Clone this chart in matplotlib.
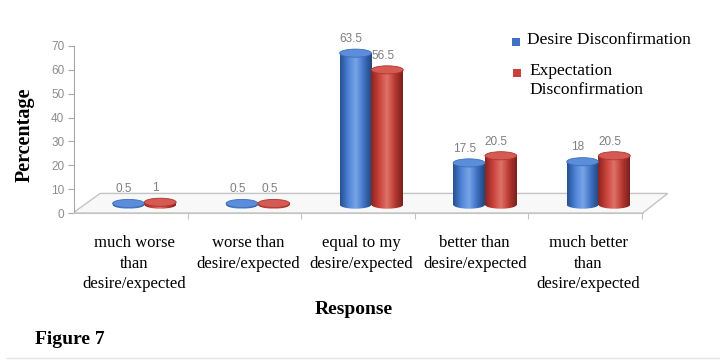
import numpy as np
import matplotlib.pyplot as plt
from matplotlib.patches import Ellipse, Polygon, Rectangle
from matplotlib.lines import Line2D
from matplotlib.colors import LinearSegmentedColormap

categories = ["much worse\nthan\ndesire/expected", "worse than\ndesire/expected",
              "equal to my\ndesire/expected", "better than\ndesire/expected",
              "much better\nthan\ndesire/expected"]
desire = [0.5, 0.5, 63.5, 17.5, 18]
expectation = [1, 0.5, 56.5, 20.5, 20.5]
desire_labels = ["0.5", "0.5", "63.5", "17.5", "18"]
expectation_labels = ["1", "0.5", "56.5", "20.5", "20.5"]
series_names = ["Desire Disconfirmation", "Expectation\nDisconfirmation"]
y_ticks = [0, 10, 20, 30, 40, 50, 60, 70]

serif = "Liberation Serif"
plt.rcParams["font.family"] = [serif, "DejaVu Serif"]

blue_cmap = LinearSegmentedColormap.from_list(
    "blue_cyl", ["#27508f", "#4c82d6", "#7aa6e8", "#3f72c4", "#22457d"])
red_cmap = LinearSegmentedColormap.from_list(
    "red_cyl", ["#8a2420", "#c8413a", "#e0736b", "#b83a33", "#7a1f1b"])
blue_cap = "#5b8ddb"
red_cap = "#d55a52"

# pseudo-3D depth shift of the bars towards the back of the floor
dx, dy = 0.12, 3.5
bar_w = 0.28
cap_h = 3.4

fig = plt.figure(figsize=(7.26, 3.60), dpi=100)
ax = fig.add_axes([74 / 726, 1 - 213 / 360, 596 / 726, 167 / 360])
ax.set_xlim(-0.5, 4.75)
ax.set_ylim(0, 70)

# floor of the chart
floor = Polygon([(-0.51, 0), (4.51, 0), (4.73, 8.2), (-0.27, 8.2)], closed=True,
                facecolor="#f8f8f8", edgecolor="#c4c4c4", lw=1.0, zorder=1)
ax.add_patch(floor)

grad = np.linspace(0, 1, 64).reshape(1, -1)


def cylinders(xs, vals, cmap, cap_color):
    bars = ax.bar(xs, vals, bar_w, bottom=dy, color="none", edgecolor="none", zorder=3)
    for rect, v in zip(bars, vals):
        x0 = rect.get_x()
        x1 = x0 + rect.get_width()
        xc = (x0 + x1) / 2
        base = Ellipse((xc, dy), bar_w, cap_h, facecolor="none", edgecolor="none", zorder=2)
        ax.add_patch(base)
        for clip in (base, rect):
            im = ax.imshow(grad, cmap=cmap, aspect="auto", extent=(x0, x1, 0, 70),
                           zorder=3, interpolation="bicubic")
            im.set_clip_path(clip)
        top = Ellipse((xc, dy + v), bar_w, cap_h, facecolor=cap_color,
                      edgecolor=cmap(0.15), lw=0.6, zorder=4)
        ax.add_patch(top)


idx = np.arange(len(categories))
cylinders(idx - bar_w / 2 + dx, desire, blue_cmap, blue_cap)
cylinders(idx + bar_w / 2 + dx, expectation, red_cmap, red_cap)
ax.set_xlim(-0.5, 4.75)
ax.set_ylim(0, 70)

for i in idx:
    ax.annotate(desire_labels[i], (i - bar_w / 2 + dx - 0.04, desire[i] + dy + cap_h / 2),
                xytext=(0, 3), textcoords="offset points", ha="center", va="bottom",
                fontsize=8.5, color="#7f7f7f", family="Liberation Sans", zorder=5)
    ax.annotate(expectation_labels[i], (i + bar_w / 2 + dx - 0.04, expectation[i] + dy + cap_h / 2),
                xytext=(0, 3), textcoords="offset points", ha="center", va="bottom",
                fontsize=8.5, color="#7f7f7f", family="Liberation Sans", zorder=5)

for s in ("top", "right"):
    ax.spines[s].set_visible(False)
ax.spines["left"].set_color("#a6a6a6")
ax.spines["bottom"].set_color("#c4c4c4")
ax.spines["bottom"].set_bounds(-0.51, 4.51)
ax.set_yticks(y_ticks)
ax.set_yticklabels([str(t) for t in y_ticks], family="Liberation Sans", fontsize=8.5,
                   color="#8c8c8c")
ax.tick_params(axis="y", length=4, color="#a6a6a6", pad=3)
ax.set_xticks(idx + 0.5)
ax.set_xticklabels([])
ax.tick_params(axis="x", length=4, color="#c4c4c4")

for i, lab in enumerate(categories):
    ax.text(i + 0.03, -0.13, lab, transform=ax.get_xaxis_transform(), ha="center",
            va="top", fontsize=12, linespacing=1.4)

fig.text(354 / 726, 1 - 310 / 360, "Response", ha="center", va="center",
         fontsize=14, fontweight="bold")
fig.text(25 / 726, 1 - 135 / 360, "Percentage", ha="center", va="center",
         rotation=90, fontsize=14.5, fontweight="bold")
fig.text(35 / 726, 1 - 340 / 360, "Figure 7", ha="left", va="center",
         fontsize=14, fontweight="bold")

# legend
fig.patches.append(Rectangle((512 / 726, 1 - 46 / 360), 8 / 726, 8 / 360,
                             transform=fig.transFigure, facecolor="#3f72c4",
                             edgecolor="none"))
fig.patches.append(Rectangle((513 / 726, 1 - 77 / 360), 8 / 726, 8 / 360,
                             transform=fig.transFigure, facecolor="#c8413a",
                             edgecolor="none"))
fig.text(527 / 726, 1 - 40 / 360, series_names[0], ha="left", va="center", fontsize=12.5)
fig.text(529 / 726, 1 - 63 / 360, series_names[1], ha="left", va="top", fontsize=12.5,
         linespacing=1.25)

# thin rule along the bottom edge
fig.add_artist(Line2D([0.01, 0.99], [1 - 358 / 360] * 2, transform=fig.transFigure,
                      color="#e2e2e2", lw=1))

fig.savefig("out.png", dpi=100)
